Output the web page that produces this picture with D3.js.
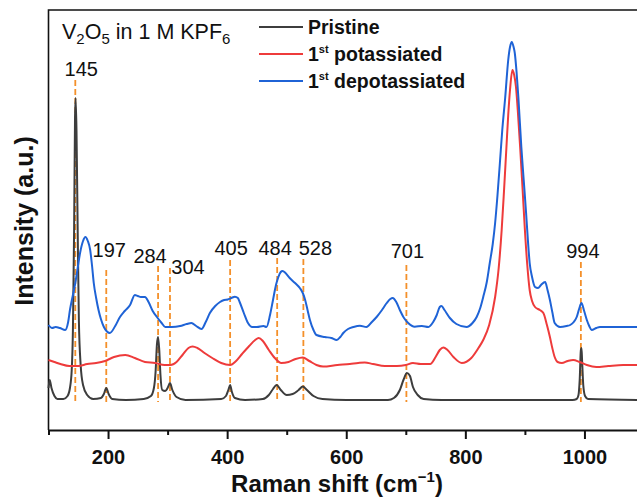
<!DOCTYPE html>
<html>
<head>
<meta charset="utf-8">
<script src="https://cdn.jsdelivr.net/npm/d3@7"></script>
<style>
  body { margin: 0; background: #fff; }
  svg { display: block; font-family: "Liberation Sans", Arial, sans-serif; }
</style>
</head>
<body>
<svg id="chart" width="637" height="498"></svg>
<script>
// spectra: [wavenumber, intensity (a.u.)]
var pristine = [[100,42],[102,50],[105,42],[110,34],[115,31],[125,31],[132,34],[136,42],[139,60],[141,100],[143,200],[144.5,310],[145.5,332],[147,300],[149,200],[151,110],[154,65],[158,45],[165,35],[175,31],[188,32],[193,36],[197,42],[201,36],[207,31],[230,30],[260,31],[272,34],[277,42],[280,60],[282,85],[284,93],[286,80],[288,55],[291,40],[296,39],[300,42],[304,47],[308,40],[315,33],[330,30],[390,31],[398,34],[402,40],[405,45],[408,38],[413,32],[430,30],[460,31],[470,35],[477,41],[483,45],[490,40],[500,35],[510,36],[520,40],[527,43.5],[534,40],[545,34],[560,31],[600,30],[670,30],[680,32],[690,40],[696,50],[702,57],[707,54],[712,43],[720,35],[730,31],[760,30],[980,30],[987,31],[990,35],[992,50],[994,80],[995,82],[996,70],[998,45],[1001,34],[1006,31],[1100,30]];

var potassiated = [[100,70],[110,68],[120,66],[135,64],[150,64],[165,66],[180,67],[195,69],[210,73],[229,75],[245,72],[262,68],[279,67],[295,65],[305,65],[315,68],[325,75],[335,82],[342,83.5],[350,82],[362,77],[375,72],[390,67],[405,65],[415,69],[425,76],[437,84],[447,90],[453,92],[460,89],[470,80],[480,72],[491,67],[503,68],[515,71],[527,72.5],[538,69],[550,65],[561,63.5],[585,65],[606,66],[620,67],[631,67.5],[645,66],[665,64],[685,64],[700,65],[712,67],[725,66],[741,66],[750,73],[757,80],[763,82.5],[770,80],[780,73],[794,67],[810,72],[822,82],[830,90],[840,105],[850,133],[856,162],[861,200],[865,240],[869,283],[872,315],[875,340],[879,360],[882,355],[885,343],[888,320],[892,283],[896,242],[900,200],[904,165],[908,140],[912,129],[917,123],[925,120],[931,117],[937,105],[942,93],[946,82],[950,73],[955,68],[962,67],[972,69],[981,70],[992,68],[1004,65],[1020,63],[1040,64],[1065,65],[1100,65]];

var depotassiated = [[100,105],[106,102],[112,103],[119,102],[128,100],[133,108],[136,120],[141,135],[145,147],[149,162],[153,177],[158,189],[162,193],[166,189],[170,180],[173,165],[176,147],[180,132],[184,120],[188,111],[193,103],[203,97],[212,104],[220,113],[228,119],[237,125],[245,135],[250,134],[255,133],[262,133],[268,128],[275,119],[282,113],[290,107],[296,103],[307,103],[321,104],[332,106],[340,107],[348,104],[357,101],[364,108],[371,117],[380,124],[388,128],[395,130],[401,130.5],[407,132],[413,133.3],[418,132],[421,128],[428,117],[435,107],[442,103],[450,103],[461,104],[466,103],[472,115],[477,130],[482,145],[486,153],[490,158],[493,159],[498,157],[505,152],[514,147],[522,142],[527,137],[531,130],[535,120],[539,110],[545,100],[550,95],[564,93],[575,92],[584,90],[590,93],[595,97],[603,101],[612,103],[623,104.3],[634,103],[643,108],[651,113],[660,120],[668,127],[674,131],[678,132],[684,128],[690,120],[697,112],[704,107],[715,103.3],[727,104],[738,103],[746,108],[752,115],[757,123],[760,124],[765,120],[774,112],[785,106],[802,103],[812,107],[819,113],[825,122],[830,133],[836,148],[841,167],[846,186],[850,207],[854,235],[858,267],[862,300],[867,333],[872,370],[875,383],[878,388],[881,383],[883,377],[886,358],[889,333],[894,283],[898,250],[902,217],[905,190],[908,167],[912,153],[917,143],[922,142],[927,145],[934,148],[938,140],[942,130],[946,118],[950,107],[959,103],[970,104],[976,105],[982,108],[987,113],[991,121],[995,127],[999,120],[1004,110],[1008,104],[1012,100],[1020,102],[1026,103],[1040,103],[1060,103],[1100,103]];

var seriesNames = ["Pristine", "potassiated", "depotassiated"];
var seriesColors = ["#3d3d3d", "#ee3b3b", "#1f63d6"];

var peaks = [145, 197, 284, 304, 405, 484, 528, 701, 994];
// label placement: shift of text in px, text baseline / dash top in intensity units
var peakLabelDx = [6, 3, -8, 18, 1, -2, 12, 1, 2];
var peakLabelY = [354, 173, 167, 156, 175, 175, 175, 172, 172];
var peakDashTop = [350, 160, 164, 162, 170, 172, 171, 165, 168];

var xMajor = [200, 400, 600, 800, 1000];
var xMinor = [100, 300, 500, 700, 900, 1100];

var svg = d3.select("#chart");

var x = d3.scaleLinear().domain([100, 1100]).range([48.5, 644]);
var y = d3.scaleLinear().domain([0, 420]).range([430, 10]);

var fontBold = "bold";

// frame (top and left edges)
svg.append("path")
    .attr("d", "M" + x(1100) + "," + y(420) + "H" + x(100) + "V" + y(0))
    .attr("fill", "none")
    .attr("stroke", "#111")
    .attr("stroke-width", 1.6);

// peak markers
var peakG = svg.append("g");
peaks.forEach(function(p, i){
    peakG.append("line")
        .attr("x1", x(p)).attr("x2", x(p))
        .attr("y1", y(peakDashTop[i])).attr("y2", y(28))
        .attr("stroke", "#f4902a")
        .attr("stroke-width", 1.8)
        .attr("stroke-dasharray", "6,3");
});

var line = d3.line()
    .x(function(d){ return x(d[0]); })
    .y(function(d){ return y(d[1]); })
    .curve(d3.curveMonotoneX);

var allSeries = [pristine, potassiated, depotassiated];
allSeries.forEach(function(s, i){
    svg.append("path")
        .datum(s)
        .attr("d", line)
        .attr("fill", "none")
        .attr("stroke", seriesColors[i])
        .attr("stroke-width", 2)
        .attr("stroke-linejoin", "round");
});

peaks.forEach(function(p, i){
    peakG.append("text")
        .attr("x", x(p) + peakLabelDx[i])
        .attr("y", y(peakLabelY[i]))
        .attr("text-anchor", "middle")
        .attr("font-size", 20)
        .attr("fill", "#111")
        .text(p);
});

// x axis
var xAxis = svg.append("g")
    .attr("transform", "translate(0," + y(0) + ")")
    .call(d3.axisBottom(x).tickValues(xMajor).tickFormat(d3.format("d"))
        .tickSize(9).tickPadding(11).tickSizeOuter(0));
xAxis.select(".domain").attr("stroke", "#111").attr("stroke-width", 2);
xAxis.selectAll(".tick line").attr("stroke", "#111").attr("stroke-width", 2);
xAxis.selectAll(".tick text")
    .attr("font-family", "Liberation Sans, Arial, sans-serif")
    .attr("font-size", 20)
    .attr("font-weight", fontBold)
    .attr("fill", "#111");

var xMinorAxis = svg.append("g")
    .attr("transform", "translate(0," + y(0) + ")")
    .call(d3.axisBottom(x).tickValues(xMinor).tickSize(5).tickFormat(""));
xMinorAxis.select(".domain").remove();
xMinorAxis.selectAll(".tick line").attr("stroke", "#111").attr("stroke-width", 2);

// axis titles
var xt = svg.append("text")
    .attr("x", 337).attr("y", 492)
    .attr("text-anchor", "middle")
    .attr("font-size", 24)
    .attr("font-weight", fontBold)
    .attr("fill", "#111");
xt.append("tspan").text("Raman shift (cm");
xt.append("tspan").attr("font-size", 15).attr("dy", -10).text("\u22121");
xt.append("tspan").attr("dy", 10).text(")");

svg.append("text")
    .attr("transform", "translate(33,221) rotate(-90)")
    .attr("text-anchor", "middle")
    .attr("font-size", 25)
    .attr("font-weight", fontBold)
    .attr("fill", "#111")
    .text("Intensity (a.u.)");

// title
var title = svg.append("text")
    .attr("x", 62).attr("y", 39)
    .attr("font-size", 21.5)
    .attr("fill", "#111");
title.append("tspan").text("V");
title.append("tspan").attr("font-size", 15).attr("dy", 5).text("2");
title.append("tspan").attr("dy", -5).text("O");
title.append("tspan").attr("font-size", 15).attr("dy", 5).text("5");
title.append("tspan").attr("dy", -5).text(" in 1 M KPF");
title.append("tspan").attr("font-size", 15).attr("dy", 5).text("6");

// legend
var legendY = [27, 54, 81];
var legend = svg.append("g");
seriesNames.forEach(function(name, i){
    legend.append("line")
        .attr("x1", 259).attr("x2", 303)
        .attr("y1", legendY[i]).attr("y2", legendY[i])
        .attr("stroke", seriesColors[i])
        .attr("stroke-width", 2);
    var t = legend.append("text")
        .attr("x", 308).attr("y", legendY[i] + 6.5)
        .attr("font-size", 19.5)
        .attr("font-weight", fontBold)
        .attr("fill", "#111");
    if (i == 0) {
        t.text(name);
    } else {
        t.append("tspan").text("1");
        t.append("tspan").attr("font-size", 11).attr("dy", -8).text("st");
        t.append("tspan").attr("dy", 8).text(" " + name);
    }
});
</script>
</body>
</html>
